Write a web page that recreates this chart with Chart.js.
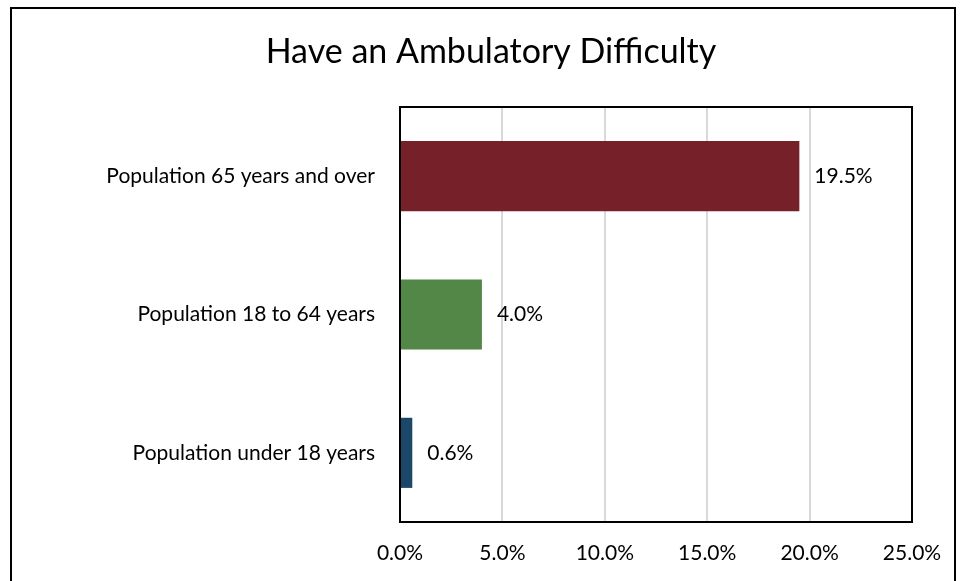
<!DOCTYPE html>
<html lang="en">
<head>
  <meta charset="UTF-8" />
  <title>Have an Ambulatory Difficulty</title>
  <script src="https://cdn.jsdelivr.net/npm/chart.js"></script>
  <style>
    html, body {
      margin: 0;
      padding: 0;
      background: #fff;
      overflow: hidden;
    }
    .frame {
      position: absolute;
      left: 10px;
      top: 7px;
      width: 942px;
      height: 620px;
      border: 2px solid #000;
    }
    .wrap {
      position: absolute;
      left: 0;
      top: 0;
      width: 961px;
      height: 581px;
    }
  </style>
</head>
<body>
  <div class="frame"></div>
  <div class="wrap"><canvas id="chart" width="961" height="581"></canvas></div>

  <script>
    // data
    const categories = ["Population 65 years and over", "Population 18 to 64 years", "Population under 18 years"];
    const values = [19.5, 4.0, 0.6];
    const barColors = ["#76202A", "#538747", "#1B4869"];
    const xTicks = [0, 5, 10, 15, 20, 25];
    const chartTitle = "Have an Ambulatory Difficulty";

    const FONT = "Lato, 'Open Sans', sans-serif";

    // title (centred on the whole frame), box around the plot area, value labels
    const extras = {
      id: "extras",
      afterDatasetsDraw(chart) {
        const { ctx, chartArea: a } = chart;
        const meta = chart.getDatasetMeta(0);
        ctx.save();
        ctx.fillStyle = "#000";

        ctx.font = "34px " + FONT;
        ctx.textAlign = "center";
        ctx.textBaseline = "alphabetic";
        ctx.fillText(chartTitle, 491, 63);

        ctx.font = "21px " + FONT;
        ctx.textAlign = "left";
        ctx.textBaseline = "middle";
        meta.data.forEach((bar, i) => {
          ctx.fillText(values[i].toFixed(1) + "%", bar.x + 15, bar.y);
        });

        ctx.strokeStyle = "#000";
        ctx.lineWidth = 2;
        ctx.strokeRect(a.left, a.top, a.right - a.left, a.bottom - a.top);
        ctx.restore();
      }
    };

    new Chart(document.getElementById("chart"), {
      type: "bar",
      data: {
        labels: categories,
        datasets: [{
          data: values,
          backgroundColor: barColors,
          categoryPercentage: 1,
          barPercentage: 0.507
        }]
      },
      options: {
        indexAxis: "y",
        responsive: false,
        animation: false,
        layout: { padding: { left: 0, right: 49, top: 107, bottom: 0 } },
        plugins: {
          legend: { display: false },
          tooltip: { enabled: false },
          title: { display: false }
        },
        scales: {
          x: {
            min: 0,
            max: 25,
            afterBuildTicks: s => { s.ticks = xTicks.map(v => ({ value: v })); },
            afterFit: s => { s.height = 59; },
            grid: { color: "#D9D9D9", lineWidth: 2, drawTicks: false },
            border: { display: false },
            ticks: {
              color: "#000",
              padding: 19,
              font: { family: FONT, size: 21 },
              callback: v => v.toFixed(1) + "%"
            }
          },
          y: {
            afterFit: s => { s.width = 400; },
            grid: { display: false },
            border: { display: false },
            ticks: {
              color: "#000",
              padding: 17,
              font: { family: FONT, size: 21 }
            }
          }
        }
      },
      plugins: [extras]
    });
  </script>
</body>
</html>
